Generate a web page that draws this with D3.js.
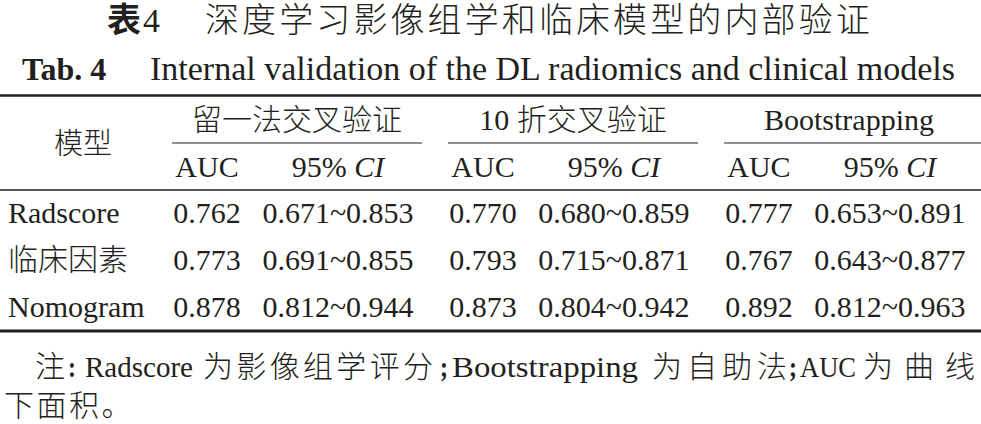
<!DOCTYPE html>
<html>
<head>
<meta charset="utf-8">
<script src="https://cdn.jsdelivr.net/npm/d3@7"></script>
<style>
  body { margin: 0; background: #fff; }
  svg text { fill: #231f20; }
</style>
</head>
<body>
<div id="chart"></div>
<script>
// table content
const titleCnLead = "表";
const titleCnNo = "4";
const titleCn = "深度学习影像组学和临床模型的内部验证";
const titleEnLead = "Tab. 4";
const titleEn = "Internal validation of the DL radiomics and clinical models";
const rowHeader = "模型";
const models = ["Radscore", "临床因素", "Nomogram"];
const groups = ["留一法交叉验证", "10 折交叉验证", "Bootstrapping"];
const subCols = ["AUC", "CI"];

const aucLoo = [0.762, 0.773, 0.878];
const ciLoo = [[0.671, 0.853], [0.691, 0.855], [0.812, 0.944]];
const auc10 = [0.770, 0.793, 0.873];
const ci10 = [[0.680, 0.859], [0.715, 0.871], [0.804, 0.942]];
const aucBoot = [0.777, 0.767, 0.892];
const ciBoot = [[0.653, 0.891], [0.643, 0.877], [0.812, 0.963]];

// note, split in runs so the justified line can be laid out piece by piece
const noteRuns = ["注", ":", "Radscore", "为影像组学评分", ";", "Bootstrapping", "为自助法", ";", "AUC", "为曲线"];
const noteTail = "下面积。";

const width = 981, height = 424;
const serif = "'Liberation Serif', 'Times New Roman', 'Noto Sans CJK SC', serif";
const cjk = "'Noto Sans CJK SC', sans-serif";
const ink = "#231f20";
const isCjk = s => /[\u4e00-\u9fff]/.test(s);

const svg = d3.select('#chart').append('svg')
  .attr('width', width)
  .attr('height', height)
  .style('font-family', serif);

// scales
const gx = d3.scaleBand().domain(groups).range([172, 974]).paddingInner(0.094);
const sx = d3.scaleOrdinal().domain(subCols).range([35, 166]);
const ry = d3.scalePoint().domain(models).range([223, 317]);

const fmt = d3.format('.3f');

// titles (serif first in the stack, the CJK glyphs fall back to Noto)
svg.append('text')
  .attr('x', 107).attr('y', 32)
  .style('font-size', '34px').style('font-weight', 700)
  .text(titleCnLead);
svg.append('text')
  .attr('x', 143).attr('y', 32)
  .style('font-size', '34px')
  .text(titleCnNo);
svg.append('text')
  .attr('x', 205).attr('y', 32)
  .style('font-size', '34px').style('font-weight', 300)
  .style('letter-spacing', '3.1px')
  .text(titleCn);

svg.append('text')
  .attr('x', 22).attr('y', 80)
  .style('font-size', '32px').style('font-weight', 700)
  .text(titleEnLead);
svg.append('text')
  .attr('x', 150).attr('y', 80)
  .style('font-size', '34px')
  .text(titleEn);

// rules
const rule = (x1, x2, y, w) => svg.append('line')
  .attr('x1', x1).attr('x2', x2).attr('y1', y).attr('y2', y)
  .attr('stroke', ink).attr('stroke-width', w);

rule(0, width, 95.5, 2.6);
rule(0, width, 190, 1.4);
rule(0, width, 331, 2.8);

svg.selectAll('.grule')
  .data(groups)
  .enter()
  .append('line')
  .attr('class', 'grule')
  .attr('x1', d => gx(d))
  .attr('x2', (d, i) => i === groups.length - 1 ? width : gx(d) + gx.bandwidth())
  .attr('y1', 143).attr('y2', 143)
  .attr('stroke', ink).attr('stroke-width', 1.2);

// header
svg.append('text')
  .attr('x', 83).attr('y', 154)
  .attr('text-anchor', 'middle')
  .style('font-family', cjk).style('font-size', '29px').style('font-weight', 300)
  .text(rowHeader);

svg.selectAll('.ghead')
  .data(groups)
  .enter()
  .append('text')
  .attr('class', 'ghead')
  .attr('x', d => gx(d) + gx.bandwidth() / 2)
  .attr('y', 130)
  .attr('text-anchor', 'middle')
  .style('font-size', '30px').style('font-weight', 300)
  .text(d => d);

groups.forEach(g => {
  svg.append('text')
    .attr('x', gx(g) + sx('AUC')).attr('y', 177)
    .attr('text-anchor', 'middle')
    .style('font-size', '30px')
    .text('AUC');
  const t = svg.append('text')
    .attr('x', gx(g) + sx('CI')).attr('y', 177)
    .attr('text-anchor', 'middle')
    .style('font-size', '30px');
  t.append('tspan').text('95% ');
  t.append('tspan').style('font-style', 'italic').text('CI');
});

// body
svg.selectAll('.rlabel')
  .data(models)
  .enter()
  .append('text')
  .attr('class', 'rlabel')
  .attr('x', 8)
  .attr('y', d => ry(d))
  .style('font-size', '30px').style('font-weight', 300)
  .text(d => d);

const groupData = [
  {g: groups[0], auc: aucLoo, ci: ciLoo},
  {g: groups[1], auc: auc10, ci: ci10},
  {g: groups[2], auc: aucBoot, ci: ciBoot}
];

groupData.forEach(gd => {
  svg.selectAll(null)
    .data(gd.auc)
    .enter()
    .append('text')
    .attr('x', gx(gd.g) + sx('AUC'))
    .attr('y', (d, i) => ry(models[i]))
    .attr('text-anchor', 'middle')
    .style('font-size', '30px')
    .text(d => fmt(d));

  svg.selectAll(null)
    .data(gd.ci)
    .enter()
    .append('text')
    .attr('x', gx(gd.g) + sx('CI'))
    .attr('y', (d, i) => ry(models[i]))
    .attr('text-anchor', 'middle')
    .style('font-size', '30px')
    .text(d => fmt(d[0]) + '~' + fmt(d[1]));
});

// note: justified first line, each run gets a start and a length
const runX = [35, 68, 85, 203, 440, 452, 652, 789, 800, 863];
const runW = [30, 8, 108, 230, 8, 186, 135, 8, 56, 112];

const note = svg.append('text')
  .attr('y', 377)
  .style('font-size', '29px').style('font-weight', 300);
note.selectAll('tspan')
  .data(noteRuns)
  .enter()
  .append('tspan')
  .attr('x', (d, i) => runX[i])
  .attr('textLength', (d, i) => runW[i])
  .attr('lengthAdjust', d => isCjk(d) ? 'spacing' : 'spacingAndGlyphs')
  .style('font-size', d => isCjk(d) ? '30px' : null)
  .style('font-weight', d => d.length === 1 && !isCjk(d) ? 700 : null)
  .text(d => d);

svg.append('text')
  .attr('x', 4).attr('y', 416)
  .style('font-size', '30px').style('font-weight', 300)
  .style('letter-spacing', '2.5px')
  .text(noteTail);
</script>
</body>
</html>
